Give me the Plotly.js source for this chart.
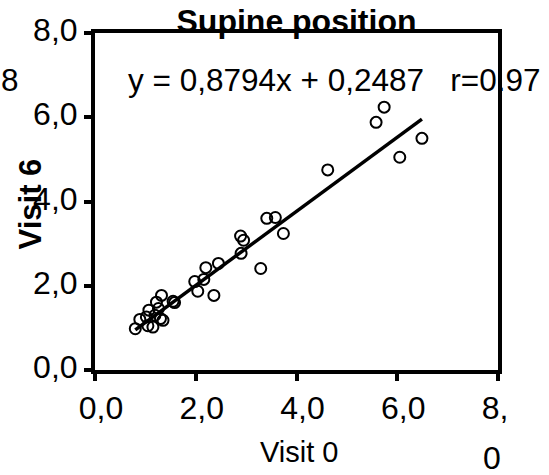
<!DOCTYPE html>
<html>
<head>
<meta charset="utf-8">
<script src="https://cdn.plot.ly/plotly-3.0.1.min.js"></script>
<style>
  html, body { margin: 0; padding: 0; background: #fff; }
  #chart { width: 549px; height: 475px; }
</style>
</head>
<body>
<div id="chart"></div>
<script>
// Dyspnoea score in supine position: visit 0 vs visit 6
const visit0 = [0.80, 0.89, 1.02, 1.05, 1.07, 1.15, 1.19, 1.22, 1.26, 1.30, 1.32, 1.35, 1.55, 1.58,
                1.98, 2.04, 2.16, 2.20, 2.36, 2.45, 2.89, 2.95, 2.90, 3.29, 3.41, 3.58, 3.74,
                4.62, 5.58, 5.74, 6.05, 6.49];
const visit6 = [0.98, 1.20, 1.26, 1.05, 1.42, 1.02, 1.30, 1.61, 1.46, 1.22, 1.77, 1.18, 1.63, 1.60,
                2.10, 1.87, 2.15, 2.43, 1.77, 2.53, 3.18, 3.08, 2.77, 2.41, 3.60, 3.62, 3.24,
                4.75, 5.88, 6.24, 5.05, 5.50];

// Linear regression reported on the chart
const fitSlope = 0.8794;
const fitIntercept = 0.2487;
const rValue = 0.97;

const tickVals = [0, 2, 4, 6, 8];
const yTickText = ["0,0", "2,0", "4,0", "6,0", "8,0"];
// the last x label wraps: "8," stays on the tick line, its "0" drops below
const xTickText = ["0,0", "2,0", "4,0", "6,0", "8,\u00A0\u00A0"];
const xLastWrap = "0";

const FONT = "Liberation Sans, Arial, Helvetica, sans-serif";
const comma = v => v.toFixed(4).replace(".", ",");

const xMin = Math.min(...visit0);
const xMax = Math.max(...visit0);
const fitX = [xMin, xMax];
const fitY = fitX.map(x => fitSlope * x + fitIntercept);

const points = {
  type: "scatter",
  mode: "markers",
  x: visit0,
  y: visit6,
  marker: { symbol: "circle-open", size: 11, color: "#000", line: { width: 2, color: "#000" } },
  cliponaxis: false,
  hoverinfo: "x+y"
};

const fitLine = {
  type: "scatter",
  mode: "lines",
  x: fitX,
  y: fitY,
  line: { color: "#000", width: 3.5 },
  hoverinfo: "skip"
};

const axisCommon = {
  range: [0, 8],
  tickmode: "array",
  tickvals: tickVals,
  ticks: "outside",
  ticklen: 7,
  tickwidth: 4,
  tickcolor: "#000",
  showline: true,
  linewidth: 4,
  linecolor: "#000",
  mirror: true,
  showgrid: false,
  zeroline: false,
  tickfont: { family: FONT, size: 32, color: "#000" },
  fixedrange: true
};

const layout = {
  width: 549,
  height: 475,
  margin: { l: 95, r: 51, t: 33, b: 105, pad: 0 },
  paper_bgcolor: "#fff",
  plot_bgcolor: "#fff",
  showlegend: false,
  title: {
    text: "<b>Supine position</b>",
    font: { family: FONT, size: 32, color: "#000" },
    xref: "paper", x: 0.5, xanchor: "center",
    yref: "container", y: 1 - 21 / 475, yanchor: "middle"
  },
  xaxis: Object.assign({}, axisCommon, { ticktext: xTickText, ticklabelshift: 6 }),
  yaxis: Object.assign({}, axisCommon, { ticktext: yTickText, ticklabelshift: -3 }),
  annotations: [
    {
      text: "y = " + comma(fitSlope) + "x + " + comma(fitIntercept) + "   r=" + rValue.toFixed(2),
      xref: "paper", yref: "paper", x: 0.077, y: 0.861,
      xanchor: "left", yanchor: "middle", showarrow: false,
      font: { family: FONT, size: 31.5, color: "#000" }
    },
    {
      text: "8",
      xref: "paper", yref: "paper", x: -0.184, y: 0.861,
      xanchor: "right", yanchor: "middle", showarrow: false,
      font: { family: FONT, size: 31.5, color: "#000" }
    },
    {
      text: "<b>Visit 6</b>",
      xref: "paper", yref: "paper", x: -0.159, y: 0.494,
      xanchor: "center", yanchor: "middle", textangle: -90, showarrow: false,
      font: { family: FONT, size: 31, color: "#000" }
    },
    {
      text: "Visit 0",
      xref: "paper", yref: "paper", x: 0.506, y: -0.243,
      xanchor: "center", yanchor: "middle", showarrow: false,
      font: { family: FONT, size: 29, color: "#000" }
    },
    {
      text: xLastWrap,
      xref: "x", yref: "paper", x: 8, xshift: -6, y: -0.262,
      xanchor: "center", yanchor: "middle", showarrow: false,
      font: { family: FONT, size: 32, color: "#000" }
    }
  ]
};

Plotly.newPlot("chart", [fitLine, points], layout, { displayModeBar: false, staticPlot: true });
</script>
</body>
</html>
